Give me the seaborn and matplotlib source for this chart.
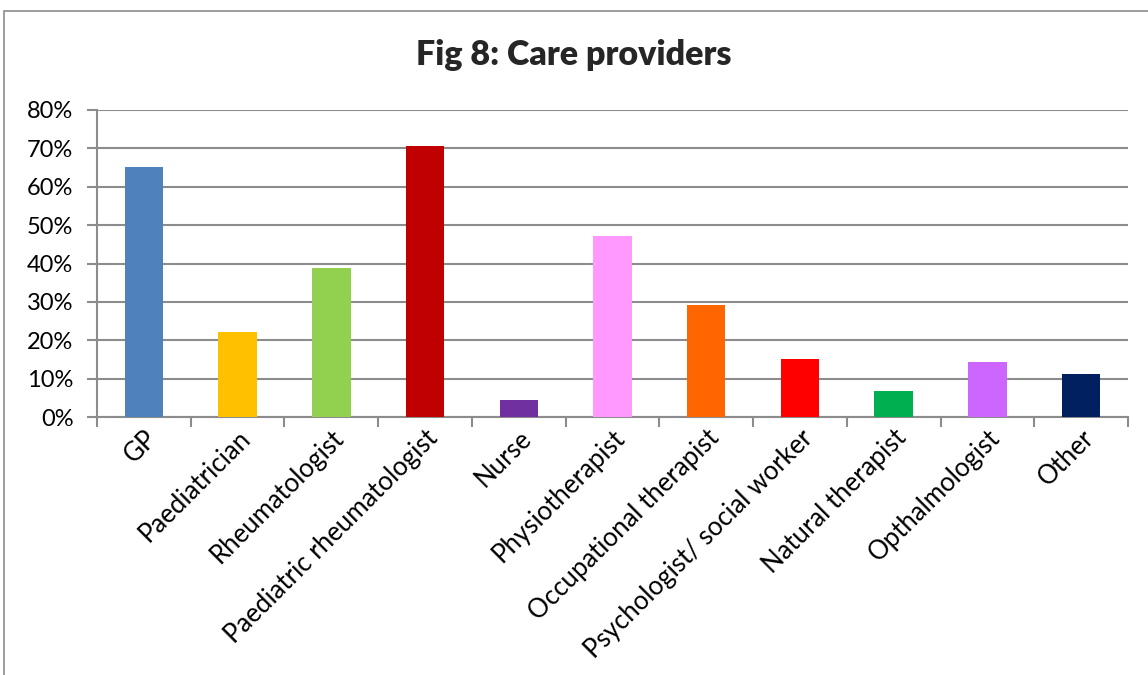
import matplotlib
matplotlib.use("Agg")
import matplotlib.pyplot as plt
import seaborn as sns
import pandas as pd
from matplotlib.patches import Rectangle
from matplotlib.ticker import FuncFormatter, FixedLocator

categories = ["GP", "Paediatrician", "Rheumatologist", "Paediatric rheumatologist",
              "Nurse", "Physiotherapist", "Occupational therapist",
              "Psychologist/ social worker", "Natural therapist", "Opthalmologist", "Other"]
values = [65.2, 22.2, 38.9, 70.7, 4.3, 47.2, 29.3, 15.2, 6.9, 14.4, 11.3]
colors = ["#4F81BD", "#FFC000", "#92D050", "#C00000", "#7030A0", "#FF99FF",
          "#FF6600", "#FF0000", "#00B050", "#CC66FF", "#002060"]
title = "Fig 8: Care providers"

sns.set_theme(style="white")
plt.rcParams['font.family'] = ['Lato', 'DejaVu Sans']

df = pd.DataFrame({"cat": categories, "val": values})

fig = plt.figure(figsize=(11.48, 6.75), dpi=100)
ax = fig.add_axes([97/1148, 1-417/675, (1128-97)/1148, (417-110)/675])

sns.barplot(data=df, x="cat", y="val", hue="cat", palette=colors, legend=False,
            width=0.41, saturation=1, ax=ax, zorder=3, linewidth=0)

ax.set_ylim(0, 80)
ax.set_xlim(-0.5, len(categories) - 0.5)
ax.set_yticks(range(0, 81, 10))
ax.yaxis.set_major_formatter(FuncFormatter(lambda v, p: f"{int(v)}%"))
ax.yaxis.grid(True, color="#8C8C8C", linewidth=1.5, zorder=0)
ax.set_axisbelow(True)
ax.set_xlabel("")
ax.set_ylabel("")

for s in ["top", "right"]:
    ax.spines[s].set_visible(False)
for s in ["left", "bottom"]:
    ax.spines[s].set_color("#8C8C8C")
    ax.spines[s].set_linewidth(1.5)

ax.tick_params(axis="y", which="major", left=True, length=7, width=1.5, color="#8C8C8C",
               labelsize=17, labelcolor="black", pad=10)
ax.set_xticks(range(len(categories)))
ax.set_xticklabels(categories, rotation=45, ha="right", rotation_mode="anchor", fontsize=18.5)
ax.tick_params(axis="x", which="major", length=0, pad=6, labelcolor="black")
ax.xaxis.set_minor_locator(FixedLocator([i - 0.5 for i in range(len(categories) + 1)]))
ax.tick_params(axis="x", which="minor", bottom=True, length=7, width=1.5, color="#8C8C8C")

fig.text(0.5, 1 - 55/675, title, ha="center", va="center", fontsize=24.5, fontweight="heavy")

fig.patches.append(Rectangle((4/1148, -0.01), 1.2, 1 - 11/675 + 0.01, transform=fig.transFigure,
                             fill=False, edgecolor="#8C8C8C", linewidth=1.2))

fig.savefig("out.png", dpi=100)
